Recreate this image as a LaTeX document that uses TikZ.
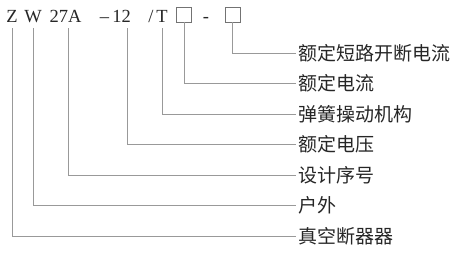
\documentclass[tikz,border=0pt]{standalone}
\usepackage{fontspec}
\setmainfont{Liberation Serif}
\newfontfamily\cjk{Noto Sans CJK SC}
\begin{document}
\begin{tikzpicture}[x=1pt,y=-1pt,
 code/.style={inner sep=0pt, anchor=base, font=\fontsize{18.5}{20}\selectfont, text=black!85},
 lab/.style={inner ysep=0pt, inner xsep=2pt, anchor=west, font=\cjk\fontsize{19}{20}\selectfont, text=black!85},
 lead/.style={draw=black!40, line width=0.9pt},
 slot/.style={draw=black!55, line width=0.8pt, minimum size=15pt, inner sep=0pt}]
\useasboundingbox (0,0) rectangle (460,260);
% code string
\node[code] (z) at (12,22) {Z};
\node[code] (w) at (33,22) {W};
\node[code] (m) at (65.5,22) {27A};
\node[code,anchor=base east] (v) at (131,22) {–\,12};
\node[code,anchor=base east] (t) at (168,22) {/\,T};
\node[slot] (b1) at (184,14.5) {};
\node[code] (d) at (206,22) {-};
\node[slot] (b2) at (232.5,14.5) {};
% labels
\node[lab] (l1) at (296,53) {额定短路开断电流};
\node[lab] (l2) at (296,83.5) {额定电流};
\node[lab] (l3) at (296,114) {弹簧操动机构};
\node[lab] (l4) at (296,144.5) {额定电压};
\node[lab] (l5) at (296,175) {设计序号};
\node[lab] (l6) at (296,205.5) {户外};
\node[lab] (l7) at (296,236) {真空断器器};
% leaders
\draw[lead] (b2.south) |- (l1.west);
\draw[lead] (b1.south) |- (l2.west);
\draw[lead] ([xshift=-6pt]t.south east) ++(0,6) |- (l3.west);
\draw[lead] ([xshift=-4pt]v.south east) ++(0,6) |- (l4.west);
\draw[lead] ([xshift=2.5pt]m.south) ++(0,6) |- (l5.west);
\draw[lead] (w.south) ++(0,6) |- (l6.west);
\draw[lead] (z.south) ++(0,6) |- (l7.west);
\end{tikzpicture}
\end{document}
